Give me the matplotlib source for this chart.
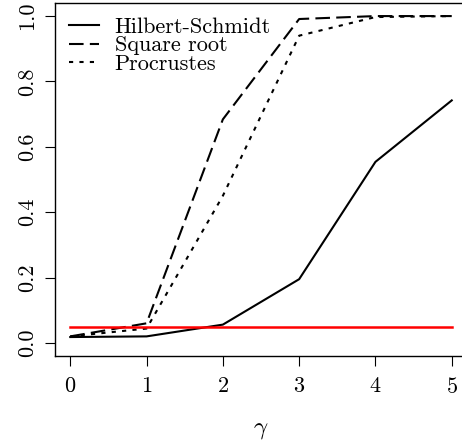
import numpy as np
import matplotlib
matplotlib.use("Agg")
import matplotlib.pyplot as plt

plt.rcParams["font.family"] = "serif"
plt.rcParams["font.serif"] = ["cmr10", "DejaVu Serif"]
plt.rcParams["mathtext.fontset"] = "cm"
plt.rcParams["axes.formatter.use_mathtext"] = True

# power curves
gamma = [0, 1, 2, 3, 4, 5]
hilbert_schmidt = [0.018, 0.020, 0.056, 0.195, 0.554, 0.742]
square_root = [0.020, 0.060, 0.684, 0.991, 1.000, 1.000]
procrustes = [0.020, 0.044, 0.450, 0.940, 0.997, 1.000]
alpha_level = 0.05

fig = plt.figure(figsize=(4.62, 4.43), dpi=100)
ax = fig.add_axes([55 / 462, 1 - 356 / 443, 412 / 462, 353 / 443])

ax.plot(gamma, hilbert_schmidt, color="black", lw=1.5, ls="-", label="Hilbert-Schmidt")
ax.plot(gamma, square_root, color="black", lw=1.5, ls=(0, (7, 3)), label="Square root")
ax.plot(gamma, procrustes, color="black", lw=1.5, ls=(0, (2, 3)), label="Procrustes")
ax.plot([gamma[0], gamma[-1]], [alpha_level, alpha_level], color="red", lw=1.8)

ax.set_xlim(-0.2, 5.2)
ax.set_ylim(-0.04, 1.04)
ax.set_xticks(gamma)
ax.set_yticks([0.0, 0.2, 0.4, 0.6, 0.8, 1.0])
ax.set_yticklabels(["0.0", "0.2", "0.4", "0.6", "0.8", "1.0"])
ax.tick_params(axis="both", length=7, width=0.8, labelsize=16, direction="out")
ax.tick_params(axis="x", pad=8)
ax.tick_params(axis="y", pad=6)
for lab in ax.get_yticklabels():
    lab.set_rotation(90)
    lab.set_va("center")
    lab.set_ha("right")
for sp in ax.spines.values():
    sp.set_linewidth(1.0)

ax.set_xlabel(r"$\gamma$", fontsize=18, labelpad=16)

leg = ax.legend(loc="upper left", frameon=False, fontsize=16, handlelength=1.35,
                handletextpad=0.68, labelspacing=-0.05, borderaxespad=0.25,
                borderpad=0.4)

fig.savefig("out.png", dpi=100)
